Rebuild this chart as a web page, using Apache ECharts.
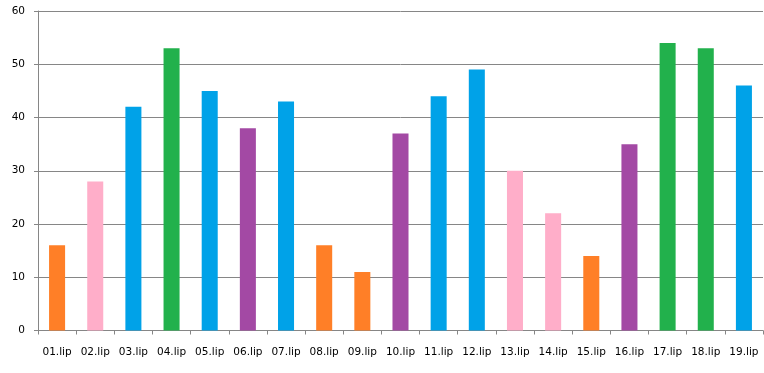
<!DOCTYPE html>
<html>
<head>
<meta charset="utf-8">
<script src="https://cdn.jsdelivr.net/npm/echarts@6/dist/echarts.min.js"></script>
<style>html,body{margin:0;padding:0;background:#fff}#c{width:764px;height:373px}</style>
</head>
<body>
<div id="c"></div>
<script>
const categories = ['01.lip','02.lip','03.lip','04.lip','05.lip','06.lip','07.lip','08.lip','09.lip','10.lip','11.lip','12.lip','13.lip','14.lip','15.lip','16.lip','17.lip','18.lip','19.lip'];
const values = [16,28,42,53,45,38,43,16,11,37,44,49,30,22,14,35,54,53,46];
const groups = ['orange','pink','blue','green','blue','purple','blue','orange','orange','purple','blue','blue','pink','pink','orange','purple','green','green','blue'];
const yTicks = [0,10,20,30,40,50,60];

const palette = {orange:'#FF7F27', pink:'#FFAEC9', blue:'#00A2E8', green:'#22B14C', purple:'#A349A4'};
const font = 'DejaVu Sans, Verdana, sans-serif';
const chart = echarts.init(document.getElementById('c'));
chart.setOption({
  animation: false,
  grid: {left: 38, right: 1, top: 11, bottom: 42.5},
  xAxis: {
    type: 'category',
    data: categories,
    axisLine: {lineStyle: {color: '#868686', width: 1}},
    axisTick: {show: true, length: 4, alignWithLabel: false, lineStyle: {color: '#868686'}},
    axisLabel: {color: '#000', fontFamily: font, fontSize: 10.5, margin: 16, interval: 0}
  },
  yAxis: {
    type: 'value',
    min: yTicks[0], max: yTicks[yTicks.length - 1], interval: 10,
    axisLine: {show: true, lineStyle: {color: '#868686', width: 1}},
    axisTick: {show: true, length: 4, inside: false, lineStyle: {color: '#868686'}},
    splitLine: {lineStyle: {color: '#868686', width: 1}},
    axisLabel: {color: '#000', fontFamily: font, fontSize: 10.5, margin: 13}
  },
  series: [{
    type: 'bar',
    barWidth: '42%',
    data: values.map((v, i) => ({value: v, itemStyle: {color: palette[groups[i]]}}))
  }]
});
</script>
</body>
</html>
